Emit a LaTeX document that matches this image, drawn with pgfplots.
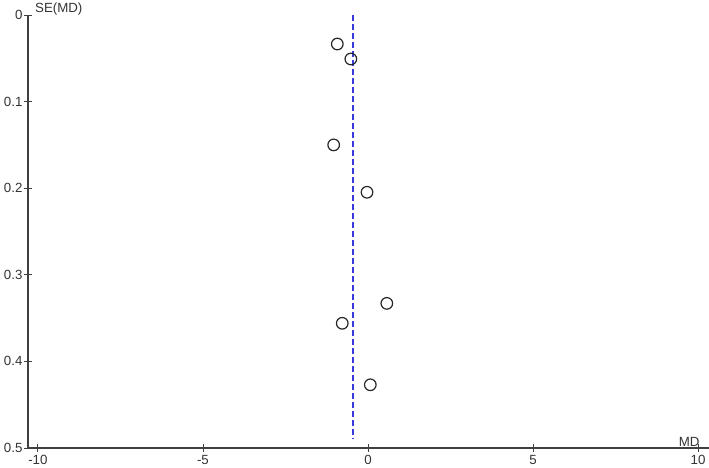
\documentclass[border=0pt]{standalone}
\usepackage{pgfplots}
\pgfplotsset{compat=1.18}
\usepackage{fontspec}
\setmainfont{Liberation Sans}
\definecolor{axisgray}{HTML}{404040}
\definecolor{pooled}{HTML}{3A3AD8}
\begin{document}
\begin{tikzpicture}
\useasboundingbox (-28pt,-20pt) rectangle (681pt,448pt);
\begin{axis}[
  scale only axis, width=681pt, height=433pt,
  at={(0,0)}, anchor=south west,
  xmin=-10.30, xmax=10.33, ymin=0, ymax=0.5,
  y dir=reverse,
  axis x line=bottom, axis y line=left,
  axis line style={axisgray, line width=1.1pt, -},
  xtick={-10,-5,0,5,10}, ytick={0,0.1,0.2,0.3,0.4,0.5},
  tick align=center, major tick length=8pt,
  tick style={axisgray, line width=0.9pt},
  yticklabel style={/pgf/number format/fixed, /pgf/number format/precision=1},
  /pgf/number format/assume math mode=true,
  ticklabel style={font=\fontsize{13.3}{15}\selectfont, text=black!80},
  xticklabel style={yshift=0pt},
  yticklabel style={xshift=2pt},
  clip=false,
]
\addplot[pooled, line width=1.5pt, dash pattern=on 6pt off 3pt] coordinates {(-0.46,0) (-0.46,0.49)};
\addplot[only marks, mark=o, mark size=5.8pt, mark options={black!85, line width=1.2pt}] coordinates {
  (-0.93,0.0335) (-0.52,0.0508) (-1.04,0.150) (-0.03,0.2047)
  (0.57,0.333) (-0.78,0.356) (0.07,0.427)
};
\node[anchor=south west, font=\fontsize{13.3}{15}\selectfont, text=black!80, inner sep=0pt] at (axis cs:-10.09,0.0) {SE(MD)};
\node[anchor=south east, font=\fontsize{13.3}{15}\selectfont, text=black!80, inner sep=0pt] at (axis cs:10.05,0.4985) {MD};
\end{axis}
\end{tikzpicture}
\end{document}
